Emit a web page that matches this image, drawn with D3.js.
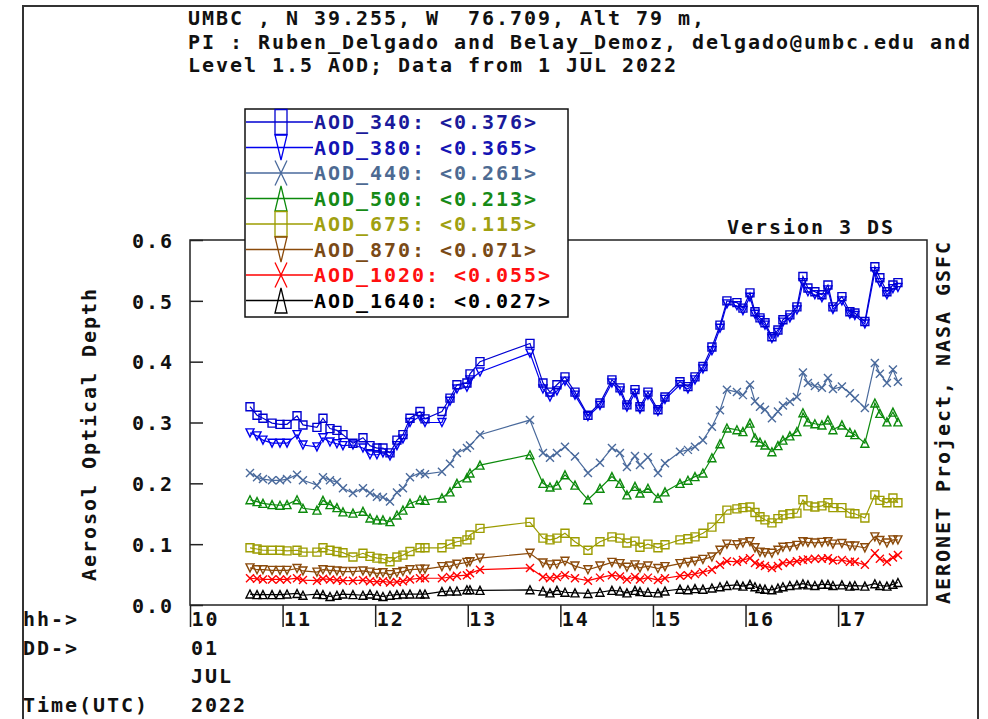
<!DOCTYPE html>
<html><head><meta charset="utf-8">
<script src="https://cdn.jsdelivr.net/npm/d3@7"></script>
<style>
html,body{margin:0;padding:0;background:#fff;}
svg text{font-family:"DejaVu Sans Mono",monospace;font-weight:bold;font-size:20px;letter-spacing:1.96px;white-space:pre;}
</style></head>
<body><svg id="c" width="988" height="719"></svg>
<script>
// ---- data ----
const titleLines = ["UMBC , N 39.255, W  76.709, Alt 79 m,",
  "PI : Ruben_Delgado and Belay_Demoz, delgado@umbc.edu and",
  "Level 1.5 AOD; Data from 1 JUL 2022"];
const yTicks = [0.0, 0.1, 0.2, 0.3, 0.4, 0.5, 0.6];
const hourTicks = [10, 11, 12, 13, 14, 15, 16, 17];
const seriesNames = ["AOD_340", "AOD_380", "AOD_440", "AOD_500", "AOD_675", "AOD_870", "AOD_1020", "AOD_1640"];
const seriesMeans = ["0.376", "0.365", "0.261", "0.213", "0.115", "0.071", "0.055", "0.027"];
const hours = [10.648,10.724,10.788,10.886,10.972,11.048,11.156,11.220,11.371,11.436,11.512,11.587,11.652,11.760,11.868,11.944,12.019,12.084,12.160,12.235,12.300,12.376,12.484,12.538,12.721,12.808,12.883,12.991,13.024,13.132,13.672,13.812,13.888,13.963,14.050,14.158,14.298,14.428,14.557,14.644,14.719,14.806,14.860,14.946,15.054,15.130,15.292,15.378,15.454,15.540,15.637,15.724,15.799,15.907,15.972,16.048,16.102,16.156,16.210,16.285,16.350,16.404,16.479,16.555,16.620,16.674,16.749,16.825,16.890,16.944,17.041,17.127,17.181,17.289,17.397,17.451,17.527,17.592,17.646];
const aod340 = [0.326,0.312,0.307,0.299,0.297,0.297,0.311,0.296,0.292,0.307,0.290,0.287,0.280,0.266,0.275,0.262,0.258,0.258,0.250,0.271,0.280,0.307,0.318,0.306,0.318,0.340,0.362,0.365,0.380,0.400,0.430,0.365,0.350,0.362,0.375,0.350,0.312,0.332,0.370,0.357,0.329,0.354,0.326,0.350,0.321,0.342,0.367,0.359,0.375,0.392,0.424,0.460,0.500,0.497,0.488,0.513,0.482,0.472,0.464,0.441,0.452,0.469,0.477,0.490,0.540,0.521,0.515,0.510,0.526,0.490,0.507,0.482,0.480,0.466,0.556,0.538,0.515,0.526,0.530];
const aod380 = [0.283,0.278,0.271,0.266,0.266,0.266,0.280,0.263,0.260,0.275,0.268,0.265,0.262,0.263,0.258,0.247,0.247,0.250,0.245,0.262,0.273,0.300,0.310,0.300,0.300,0.335,0.355,0.358,0.370,0.383,0.414,0.355,0.342,0.352,0.368,0.345,0.310,0.328,0.365,0.352,0.325,0.348,0.322,0.345,0.318,0.338,0.362,0.355,0.370,0.388,0.418,0.455,0.495,0.492,0.484,0.506,0.478,0.468,0.460,0.438,0.448,0.465,0.472,0.485,0.530,0.515,0.510,0.505,0.518,0.486,0.500,0.478,0.476,0.462,0.548,0.530,0.510,0.520,0.522];
const aod440 = [0.217,0.210,0.207,0.205,0.205,0.207,0.214,0.205,0.197,0.210,0.205,0.202,0.192,0.184,0.192,0.184,0.178,0.177,0.170,0.185,0.192,0.210,0.217,0.215,0.219,0.232,0.250,0.258,0.262,0.280,0.304,0.250,0.242,0.250,0.260,0.244,0.217,0.234,0.258,0.250,0.227,0.245,0.230,0.243,0.217,0.233,0.252,0.255,0.260,0.271,0.293,0.320,0.354,0.350,0.345,0.362,0.335,0.326,0.321,0.307,0.318,0.328,0.334,0.342,0.382,0.365,0.360,0.357,0.373,0.355,0.359,0.348,0.340,0.324,0.398,0.380,0.365,0.387,0.367];
const aod500 = [0.173,0.170,0.167,0.165,0.164,0.165,0.173,0.159,0.156,0.172,0.165,0.160,0.153,0.151,0.154,0.143,0.140,0.140,0.137,0.148,0.156,0.167,0.173,0.172,0.176,0.186,0.200,0.209,0.217,0.230,0.247,0.200,0.194,0.197,0.214,0.197,0.173,0.192,0.211,0.200,0.181,0.195,0.184,0.192,0.176,0.186,0.200,0.205,0.211,0.217,0.242,0.265,0.291,0.288,0.285,0.299,0.275,0.268,0.263,0.252,0.262,0.271,0.278,0.285,0.316,0.301,0.298,0.296,0.304,0.288,0.296,0.284,0.280,0.266,0.332,0.315,0.301,0.317,0.301];
const aod675 = [0.094,0.092,0.090,0.090,0.090,0.089,0.090,0.087,0.087,0.094,0.090,0.088,0.086,0.079,0.085,0.080,0.077,0.076,0.071,0.079,0.082,0.088,0.094,0.094,0.094,0.100,0.104,0.107,0.115,0.126,0.136,0.110,0.107,0.110,0.118,0.104,0.090,0.104,0.112,0.110,0.102,0.105,0.095,0.100,0.094,0.099,0.107,0.109,0.112,0.118,0.128,0.142,0.156,0.158,0.160,0.161,0.152,0.145,0.140,0.135,0.142,0.148,0.150,0.151,0.173,0.163,0.161,0.163,0.168,0.160,0.160,0.151,0.150,0.143,0.181,0.172,0.168,0.176,0.168];
const aod870 = [0.061,0.058,0.058,0.057,0.057,0.057,0.060,0.056,0.054,0.058,0.057,0.056,0.055,0.055,0.056,0.054,0.052,0.053,0.050,0.053,0.055,0.058,0.059,0.059,0.063,0.064,0.067,0.070,0.071,0.077,0.085,0.069,0.066,0.067,0.072,0.064,0.058,0.064,0.070,0.068,0.062,0.066,0.061,0.064,0.060,0.063,0.068,0.070,0.072,0.075,0.079,0.090,0.100,0.099,0.102,0.104,0.094,0.087,0.086,0.085,0.090,0.095,0.096,0.098,0.104,0.103,0.102,0.103,0.104,0.100,0.101,0.097,0.097,0.094,0.112,0.106,0.102,0.107,0.107];
const aod1020 = [0.044,0.043,0.042,0.042,0.042,0.042,0.044,0.041,0.040,0.043,0.042,0.041,0.040,0.040,0.041,0.039,0.038,0.039,0.037,0.038,0.039,0.042,0.044,0.044,0.044,0.046,0.048,0.049,0.052,0.058,0.061,0.046,0.044,0.046,0.049,0.044,0.040,0.045,0.049,0.047,0.042,0.046,0.042,0.045,0.041,0.044,0.048,0.049,0.051,0.054,0.058,0.066,0.072,0.071,0.074,0.077,0.069,0.066,0.064,0.061,0.064,0.069,0.070,0.072,0.074,0.075,0.076,0.076,0.077,0.073,0.074,0.071,0.071,0.066,0.085,0.076,0.071,0.078,0.082];
const aod1640 = [0.018,0.017,0.017,0.017,0.017,0.018,0.019,0.016,0.018,0.017,0.014,0.016,0.018,0.017,0.016,0.018,0.016,0.014,0.016,0.017,0.018,0.018,0.018,0.018,0.022,0.023,0.023,0.025,0.025,0.024,0.025,0.023,0.020,0.024,0.021,0.020,0.019,0.021,0.024,0.023,0.020,0.024,0.022,0.021,0.020,0.023,0.026,0.025,0.027,0.026,0.028,0.030,0.032,0.033,0.031,0.034,0.030,0.027,0.026,0.025,0.028,0.030,0.032,0.033,0.035,0.033,0.032,0.034,0.034,0.032,0.033,0.031,0.032,0.031,0.035,0.032,0.031,0.034,0.037];
const seriesValues = [aod340, aod380, aod440, aod500, aod675, aod870, aod1020, aod1640];
const seriesColors = ["#0000d0", "#0000ee", "#4a6a9c", "#0c8a0c", "#9c9c00", "#8b4a0a", "#ff0000", "#000000"];
const legendTextColors = ["#1a1a9a", "#1414b4", "#4d6a92", "#168a16", "#a0a010", "#7a4a16", "#ff1010", "#000000"];
const seriesMarkers = ["square", "triDown", "cross", "triUp", "square", "triDown", "cross", "triUp"];

// ---- layout ----
const svg = d3.select("#c");
const L = 190, R = 927, T = 240, B = 605;
const x = d3.scaleLinear().domain([10, 17.96]).range([L, R]);
const y = d3.scaleLinear().domain([0, 0.6]).range([B, T]);

function markerPath(kind, w, h) {
  const a = w / 2, b = h / 2;
  if (kind === "square") return `M${-a},${-b}H${a}V${b}H${-a}Z`;
  if (kind === "triDown") return `M${-a},${-b}H${a}L0,${b}Z`;
  if (kind === "triUp") return `M0,${-b}L${a},${b}H${-a}Z`;
  return `M${-a},${-b}L${a},${b}M${-a},${b}L${a},${-b}`;
}

// outer frame
svg.append("rect").attr("x", 23).attr("y", 6).attr("width", 955).attr("height", 720)
  .attr("fill", "none").attr("stroke", "#333").attr("stroke-width", 2);

// titles
svg.selectAll("text.title").data(titleLines).join("text").attr("class", "title")
  .attr("x", 188).attr("y", (d, i) => 25 + i * 23.5).attr("fill", "#111").text(d => d);

// plot frame
svg.append("rect").attr("x", L).attr("y", T).attr("width", R - L).attr("height", B - T)
  .attr("fill", "none").attr("stroke", "#222").attr("stroke-width", 1.5);

const tickFont = sel => sel.attr("fill", "#111").style("font-size", "20px")
  .style("font-family", "DejaVu Sans Mono").style("font-weight", "bold").style("letter-spacing", "1.96px");

// y axis ticks & labels
const yAxis = d3.axisRight(y).tickValues(yTicks).tickSize(13).tickFormat(d3.format(".1f"));
const yg = svg.append("g").attr("transform", `translate(${L},0)`).call(yAxis);
yg.select(".domain").remove();
yg.selectAll(".tick line").attr("stroke", "#222").attr("stroke-width", 1.5);
yg.selectAll(".tick text").attr("x", -16).attr("dy", "0.36em").attr("text-anchor", "end").call(tickFont);

// x axis ticks & labels
const xAxis = d3.axisBottom(x).tickValues(hourTicks).tickSize(22).tickFormat(d3.format("d"));
const xg = svg.append("g").attr("transform", `translate(0,${B})`).call(xAxis);
xg.select(".domain").remove();
xg.selectAll(".tick line").attr("stroke", "#222").attr("stroke-width", 1.5);
xg.selectAll(".tick text").attr("x", 1).attr("y", 0).attr("dy", "21px").attr("text-anchor", "start").call(tickFont);

// bottom-left labels
const leftLabels = ["hh->", "DD->", "", "Time(UTC)"];
const dateLabels = ["", "01", "JUL", "2022"];
const rowY = [626, 655, 683, 712];
leftLabels.forEach((t, i) => { if (t) svg.append("text").attr("x", 23).attr("y", rowY[i]).attr("fill", "#111").text(t); });
dateLabels.forEach((t, i) => { if (t) svg.append("text").attr("x", 191).attr("y", rowY[i]).attr("fill", "#111").text(t); });

// axis titles
svg.append("text").attr("transform", "translate(96,434) rotate(-90)").attr("text-anchor", "middle")
  .attr("fill", "#111").text("Aerosol Optical Depth");
svg.append("text").attr("transform", "translate(950,422) rotate(-90)").attr("text-anchor", "middle")
  .attr("fill", "#111").text("AERONET Project, NASA GSFC");
svg.append("text").attr("x", 727).attr("y", 234).attr("fill", "#111").text("Version 3 DS");

// series (draw longest wavelength first so blue on top)
const line = d3.line().x(d => x(d[0])).y(d => y(d[1]));
for (let s = seriesValues.length - 1; s >= 0; s--) {
  const pts = hours.map((h, i) => [h, seriesValues[s][i]]);
  const g = svg.append("g");
  g.append("path").attr("d", line(pts)).attr("fill", "none").attr("stroke", seriesColors[s]).attr("stroke-width", 1.2);
  g.selectAll("path.m").data(pts).join("path").attr("class", "m")
    .attr("transform", d => `translate(${x(d[0])},${y(d[1])})`)
    .attr("d", markerPath(seriesMarkers[s], 8, 8))
    .attr("fill", "none").attr("stroke", seriesColors[s]).attr("stroke-width", 1.4);
}

// legend
const lg = svg.append("g");
lg.append("rect").attr("x", 245).attr("y", 109).attr("width", 323).attr("height", 208)
  .attr("fill", "#fff").attr("stroke", "#111").attr("stroke-width", 1.5);
seriesNames.forEach((n, i) => {
  const cy = 122 + i * 25.5;
  lg.append("line").attr("x1", 246).attr("x2", 313).attr("y1", cy).attr("y2", cy)
    .attr("stroke", seriesColors[i]).attr("stroke-width", 1.5);
  lg.append("path").attr("transform", `translate(281,${cy})`).attr("d", markerPath(seriesMarkers[i], 12, 25))
    .attr("fill", "none").attr("stroke", seriesColors[i]).attr("stroke-width", 1.3);
  lg.append("text").attr("x", 314).attr("y", cy + 7).attr("fill", legendTextColors[i])
    .text(`${n}: <${seriesMeans[i]}>`);
});
</script></body></html>
